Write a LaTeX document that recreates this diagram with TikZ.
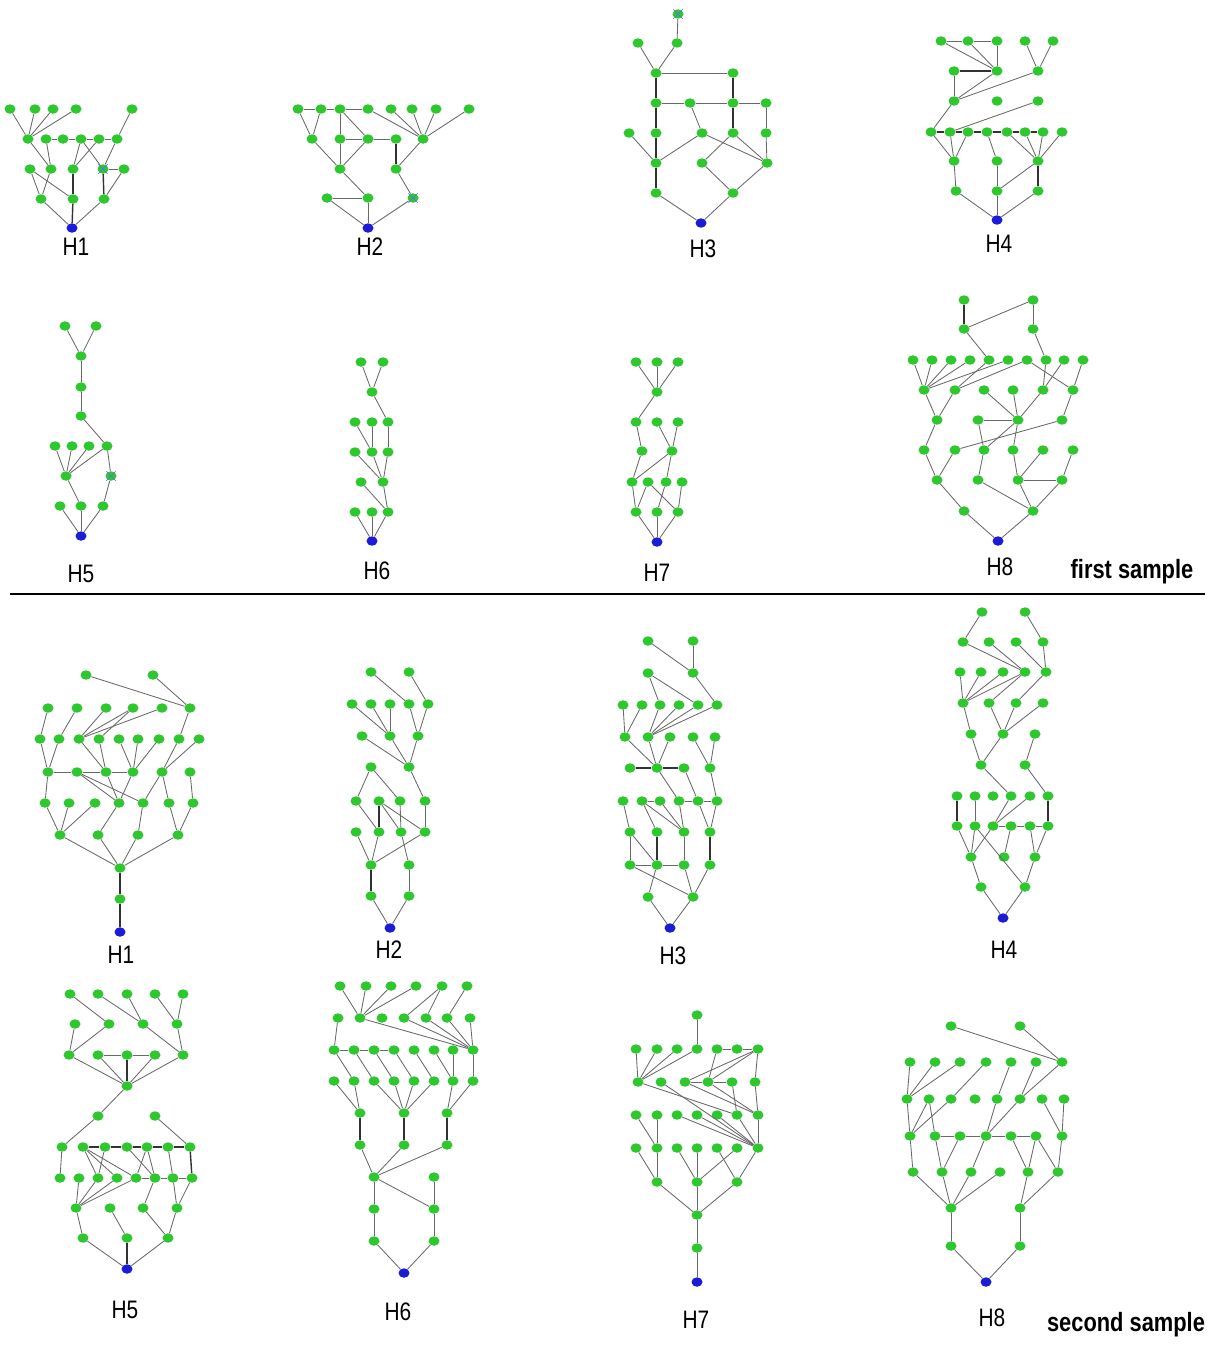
\documentclass[tikz,border=0pt]{standalone}
\usepackage{fontspec}
\setmainfont{Liberation Sans}
\usetikzlibrary{shapes.geometric,shapes.misc}
\definecolor{dotgreen}{RGB}{46,200,46}
\definecolor{dotblue}{RGB}{28,28,215}
\definecolor{edgegray}{RGB}{105,105,105}
\definecolor{edgedark}{RGB}{50,50,50}
\newcommand\mynodes[3]{\foreach \nn/\xx/\yy in {#3}{\node[#2] (#1\nn) at (\xx,\yy) {};}}
\newcommand\myedges[3]{\foreach \ea/\eb in {#3}{\draw[#2] (#1\ea) -- (#1\eb);}}
\newcommand\tallt[1]{\scalebox{0.95}[1.15]{#1}}
\tikzset{
  g/.style={ellipse, fill=dotgreen, draw=none, minimum width=11pt, minimum height=9.5pt, inner sep=0pt},
  rt/.style={ellipse, fill=dotblue, draw=none, minimum width=11pt, minimum height=9.5pt, inner sep=0pt},
  e/.style={draw=edgegray, line width=0.85pt},
  eb/.style={draw=edgedark, line width=1.4pt},
  lab/.style={font=\fontsize{22}{26}\selectfont, inner sep=0pt},
  smp/.style={font=\fontsize{23}{26}\selectfont\bfseries, inner sep=0pt},
  xm/.style={cross out, draw=blue!60, line width=0.5pt, minimum size=9pt, inner sep=0pt},
}
\begin{document}
\begin{tikzpicture}[x=1pt,y=-1pt]
\useasboundingbox[fill=white] (0,0) rectangle (1216,1346);

% ================= FIRST SAMPLE =================
% ---- H1
\mynodes{f1}{g}{a1/10/109,a2/35/109,a3/53/109,a4/76/109,a5/132/109,
 b1/28/139,b2/46/139,b3/63/139,b4/81/139,b5/99/139,b6/117/139,
 c1/30/169,c2/51/169,c3/73/169,c4/103/169,c5/124/169,
 d1/41/199,d2/73/199,d3/104/199}
\mynodes{f1}{rt}{r/72/228}
\myedges{f1}{e}{a1/b1,a2/b1,a3/b1,a4/b1,a5/b6,b2/b3,b3/b4,b4/b5,b5/b6,b1/c2,b2/c2,b4/c3,b5/c3,b4/c4,b6/c4,c4/c5,c1/d1,c1/d2,c2/d1,c5/d3,d1/r,d3/r}
\myedges{f1}{eb}{c3/d2,d2/r,c4/d3}
\node[xm] (f1xm) at (f1c4) {};
\node[lab] (f1lab) at (76,247) {\tallt{H1}};

% ---- H2
\mynodes{f2}{g}{a1/298/109,a2/321/109,a3/340/109,a4/368/109,a5/391/109,a6/412/109,a7/436/109,a8/469/109,
 b1/312/139,b2/340/139,b3/368/139,b4/396/139,b5/423/139,
 c1/340/169,c2/396/169,
 d1/327/198,d2/368/198,d3/413/198}
\mynodes{f2}{rt}{r/368/228}
\myedges{f2}{e}{a1/a2,a2/a3,a3/a4,a1/b1,a2/b1,a3/b2,b2/c1,a3/b3,b2/b3,b3/b4,b3/c1,b1/c1,a4/b5,a5/b5,a6/b5,a7/b5,a8/b5,b5/c2,c1/d2,c2/d3,d1/d2,d1/r,d2/r,d3/r}
\myedges{f2}{eb}{b4/c2}
\node[xm] (f2xm) at (f2d3) {};
\node[lab] (f2lab) at (370,247) {\tallt{H2}};

% ---- H3
\mynodes{f3}{g}{x/678/14,a1/638/43,a2/677/43,b1/656/73,b2/733/73,
 c1/656/103,c2/690/103,c3/733/103,c4/766/103,
 d1/629/133,d2/656/133,d3/702/133,d4/733/133,d5/766/133,
 e1/656/163,e2/702/163,e3/767/163,f1/656/193,f2/733/193}
\mynodes{f3}{rt}{r/701/223}
\myedges{f3}{e}{x/a2,a1/b1,a2/b1,b1/b2,c1/c2,c2/c3,c3/c4,c4/d5,d5/e3,c2/d3,d1/e1,d3/e1,d3/e3,d4/e2,d4/e3,e2/f2,e3/f2,f1/r,f2/r}
\myedges{f3}{eb}{b1/c1,c1/d2,d2/e1,e1/f1,b2/c3,c3/d4}
\node[xm] (f3xm) at (f3x) {};
\node[lab] (f3lab) at (703,249) {\tallt{H3}};

% ---- H4
\mynodes{f4}{g}{a1/941/41,a2/968/41,a3/997/41,a4/1025/41,a5/1053/41,
 b1/954/71,b2/997/71,b3/1038/71,
 c1/954/101,c2/997/101,c3/1038/101,
 d1/931/132,d2/950/132,d3/968/132,d4/987/132,d5/1007/132,d6/1025/132,d7/1043/132,d8/1062/132,
 e1/954/161,e2/997/161,e3/1038/161,
 f1/956/191,f2/997/191,f3/1038/191}
\mynodes{f4}{rt}{r/997/220}
\myedges{f4}{e}{a1/a2,a2/a3,a1/b2,a2/b2,a3/b2,a4/b3,a5/b3,b1/c1,b2/c1,b3/c1,c1/d1,c3/d2,d1/e1,d2/e1,d3/e1,d4/e2,d5/e3,d6/e3,d7/e3,d8/e3,e1/f1,e2/f2,e3/f2,f1/r,f2/r,f3/r}
\myedges{f4}{eb}{b1/b2,d1/d2,d2/d3,d3/d4,d4/d5,d5/d6,d6/d7,e3/f3}
\node[lab] (f4lab) at (999,244) {\tallt{H4}};

% ---- H5
\mynodes{f5}{g}{a1/65/326,a2/96/326,b/81/356,c/81/387,d/81/416,
 e1/55/446,e2/72/446,e3/89/446,e4/107/446,f1/66/476,f2/111/476,
 g1/60/506,g2/81/506,g3/103/506}
\mynodes{f5}{rt}{r/81/536}
\myedges{f5}{e}{a1/b,a2/b,b/c,c/d,d/e4,e1/f1,e2/f1,e3/f1,e4/f1,e4/f2,f1/g2,f2/g3,g1/r,g2/r,g3/r}
\node[xm] (f5xm) at (f5f2) {};
\node[lab] (f5lab) at (81,574) {\tallt{H5}};

% ---- H6
\mynodes{f6}{g}{a1/361/362,a2/383/362,b/372/392,c1/355/422,c2/372/422,c3/388/422,
 d1/355/452,d2/372/452,d3/388/452,e1/361/482,e2/383/482,g1/355/512,g2/372/512,g3/388/512}
\mynodes{f6}{rt}{r/372/541}
\myedges{f6}{e}{a1/b,a2/b,b/c3,c1/d2,c2/d2,c3/d3,d1/e2,d2/e2,d3/e2,e1/g3,e2/g3,g1/r,g2/r,g3/r}
\node[lab] (f6lab) at (377,571) {\tallt{H6}};

% ---- H7
\mynodes{f7}{g}{a1/636/362,a2/657/362,a3/678/362,b/657/392,c1/636/422,c2/657/422,c3/678/422,
 d1/642/451,d2/672/451,e1/632/482,e2/648/482,e3/666/482,e4/682/482,g1/636/512,g2/657/512,g3/678/512}
\mynodes{f7}{rt}{r/657/542}
\myedges{f7}{e}{a1/b,a2/b,a3/b,b/c1,c1/d1,c2/d2,c3/d2,d1/e1,d2/e1,d2/e3,e1/g1,e2/g1,e2/g3,e3/g2,e4/g3,g1/r,g2/r,g3/r}
\node[lab] (f7lab) at (657,573) {\tallt{H7}};

% ---- H8
\mynodes{f8}{g}{a1/964/300,a2/1033/300,b1/964/329,b2/1033/329,
 c1/913/360,c2/932/360,c3/951/360,c4/970/360,c5/989/360,c6/1008/360,c7/1027/360,c8/1046/360,c9/1064/360,c10/1083/360,
 d1/924/390,d2/955/390,d3/984/390,d4/1013/390,d5/1043/390,d6/1073/390,
 e1/937/420,e2/978/420,e3/1018/420,e4/1062/420,
 f1/924/450,f2/955/450,f3/984/450,f4/1013/450,f5/1043/450,f6/1073/450,
 g1/937/480,g2/978/480,g3/1018/480,g4/1062/480,
 h1/964/511,h2/1033/511}
\mynodes{f8}{rt}{r/998/541}
\myedges{f8}{e}{a2/b1,a2/b2,b1/c5,b2/c8,c1/d1,c2/d1,c3/d1,c4/d1,c6/d1,c5/d2,c7/d2,c7/d6,c8/d5,c9/d5,c10/d6,d1/e1,d2/e1,d3/e3,d4/e3,d5/e3,e2/e3,d6/e4,e1/f1,e2/f3,e3/f3,e4/f2,e3/f4,f4/g3,f1/g1,f2/g1,f3/g2,f5/g3,f6/g4,g3/g4,g1/h1,g2/h2,g3/h2,g4/h2,h1/r,h2/r}
\myedges{f8}{eb}{a1/b1}
\node[lab] (f8lab) at (1000,567) {\tallt{H8}};
\node[smp] (firstsmp) at (1132,572) {\tallt{first sample}};

% separator
\coordinate (sepL) at (10,594);
\coordinate (sepR) at (1205,594);
\draw[line width=1.3pt] (sepL) -- (sepR);

% ================= SECOND SAMPLE =================
% ---- H1
\mynodes{s1}{g}{a1/86/675,a2/153/675,
 b1/48/708,b2/77/708,b3/106/708,b4/133/708,b5/162/708,b6/190/708,
 c1/40/739,c2/59/739,c3/79/739,c4/99/739,c5/119/739,c6/138/739,c7/159/739,c8/179/739,c9/199/739,
 d1/48/772,d2/77/772,d3/106/772,d4/133/772,d5/162/772,d6/190/772,
 e1/45/803,e2/69/803,e3/95/803,e4/119/803,e5/143/803,e6/169/803,e7/193/803,
 f1/60/835,f2/98/835,f3/138/835,f4/178/835,g/120/868,h/120/899}
\mynodes{s1}{rt}{r/120/932}
\myedges{s1}{e}{a1/b6,a2/b6,b1/c1,b2/c2,b3/c3,b4/c3,b4/c4,b5/c3,b6/c8,c1/d1,c2/d1,c3/d3,c4/d3,c5/d4,c6/d4,c7/d4,c8/d5,c9/d5,d1/d2,d2/d3,d3/d4,d2/e4,d2/e5,d3/e4,d4/e4,d5/e5,d5/e6,d6/e7,d1/e1,e1/f1,e2/f1,e3/f1,e4/f2,e5/f3,e6/f4,e7/f4,f1/g,f2/g,f3/g,f4/g}
\myedges{s1}{eb}{g/h,h/r}
\node[lab] (s1lab) at (121,955) {\tallt{H1}};

% ---- H2
\mynodes{s2}{g}{a1/371/672,a2/409/672,
 b1/352/704,b2/371/704,b3/390/704,b4/409/704,b5/428/704,
 c1/362/736,c2/390/736,c3/418/736,d1/371/767,d2/409/767,
 e1/356/801,e2/379/801,e3/400/801,e4/425/801,
 f1/356/832,f2/379/832,f3/401/832,f4/425/832,
 g1/371/865,g2/409/865,h1/371/896,h2/409/896}
\mynodes{s2}{rt}{r/390/928}
\myedges{s2}{e}{a1/b4,a2/b5,b1/c2,b2/c2,b3/c2,b4/c3,b5/c3,c1/d2,c2/d2,c3/d2,d1/e1,d1/e3,d2/e4,e1/f2,e2/f3,e2/f4,e3/f3,e4/f4,f1/g1,f2/g1,f4/g1,f3/g2,g2/h2,h1/r,h2/r}
\myedges{s2}{eb}{e2/f2,g1/h1}
\node[lab] (s2lab) at (389,950) {\tallt{H2}};

% ---- H3
\mynodes{s3}{g}{a1/648/641,a2/693/641,b1/648/673,b2/693/673,
 c1/623/705,c2/642/705,c3/660/705,c4/679/705,c5/698/705,c6/717/705,
 d1/625/737,d2/648/737,d3/670/737,d4/693/737,d5/715/737,
 e1/630/768,e2/657/768,e3/684/768,e4/710/768,
 f1/623/801,f2/642/801,f3/660/801,f4/679/801,f5/698/801,f6/717/801,
 g1/630/832,g2/657/832,g3/684/832,g4/710/832,
 h1/630/865,h2/657/865,h3/684/865,h4/710/865,
 i1/648/897,i2/693/897}
\mynodes{s3}{rt}{r/670/928}
\myedges{s3}{e}{a1/b2,a2/b2,b1/c3,b1/c5,b2/c6,c1/d1,c2/d1,c3/d2,c4/d2,c5/d2,c6/d2,d1/e2,d2/e2,d3/e2,d4/e4,d5/e4,e2/f4,e3/f5,e4/f6,f2/f3,f4/f5,f5/f6,f1/g1,f2/g2,f2/g3,f3/g3,f4/g3,f5/g4,f6/g4,g1/h1,g1/h2,g3/h3,h1/h2,h2/h3,h1/i2,h2/i1,h3/i2,h4/i2,i1/r,i2/r}
\myedges{s3}{eb}{e1/e2,e2/e3,g2/h2,g4/h4}
\node[lab] (s3lab) at (673,956) {\tallt{H3}};

% ---- H4
\mynodes{s4}{g}{a1/982/612,a2/1025/612,
 b1/963/642,b2/989/642,b3/1016/642,b4/1043/642,
 c1/960/672,c2/981/672,c3/1003/672,c4/1025/672,c5/1046/672,
 d1/963/703,d2/989/703,d3/1016/703,d4/1043/703,
 e1/971/734,e2/1003/734,e3/1035/734,f1/981/765,f2/1025/765,
 g1/957/796,g2/975/796,g3/993/796,g4/1011/796,g5/1030/796,g6/1048/796,
 h1/957/826,h2/975/826,h3/993/826,h4/1011/826,h5/1030/826,h6/1048/826,
 i1/971/857,i2/1004/857,i3/1035/857,j1/981/887,j2/1025/887}
\mynodes{s4}{rt}{r/1003/918}
\myedges{s4}{e}{a1/b1,a2/b4,b1/c4,b2/c4,b3/c5,b4/c5,c1/d1,c2/d1,c3/d1,c4/d1,c4/d2,c5/d3,d1/e1,d2/e2,d3/e2,d4/e2,e1/f1,e2/f1,e3/f2,f1/g4,f2/g6,g2/h2,g4/h3,g5/h3,h3/h4,h4/h5,h5/h6,h1/i1,h2/i1,h3/i1,h4/i2,h5/i3,h6/i3,h2/j2,i1/j1,i3/j2,j1/r,j2/r}
\myedges{s4}{eb}{g1/h1,g6/h6}
\node[lab] (s4lab) at (1004,950) {\tallt{H4}};

% ---- H5
\mynodes{s5}{g}{a1/70/994,a2/98/994,a3/127/994,a4/155/994,a5/183/994,
 b1/75/1024,b2/109/1024,b3/143/1024,b4/177/1024,
 c1/69/1055,c2/98/1055,c3/127/1055,c4/155/1055,c5/183/1055,
 d/127/1086,e1/98/1116,e2/155/1116,
 f1/62/1147,f2/83/1147,f3/105/1147,f4/127/1147,f5/147/1147,f6/168/1147,f7/190/1147,
 g1/60/1178,g2/79/1178,g3/98/1178,g4/117/1178,g5/136/1178,g6/155/1178,g7/173/1178,g8/192/1178,
 h1/76/1208,h2/110/1208,h3/143/1208,h4/177/1208,
 i1/83/1238,i2/127/1238,i3/168/1238}
\mynodes{s5}{rt}{r/127/1269}
\myedges{s5}{e}{a1/b2,a2/b3,a3/b3,a4/b4,a5/b4,b1/c1,b2/c1,b3/c5,b4/c5,c2/c3,c3/c4,c1/d,c2/d,c4/d,c5/d,d/e1,e1/f1,e2/f7,f1/g1,f2/g3,f2/g4,f2/g5,f3/g3,f5/g5,f5/g6,f6/g7,f4/g6,g5/g6,g6/g7,g7/g8,g2/h1,g3/h1,g4/h1,g5/h1,g6/h3,g7/h4,g8/h4,h1/i1,h2/i2,h3/i3,h4/i3,i1/r,i3/r}
\myedges{s5}{eb}{c3/d,f2/f3,f3/f4,f4/f5,f5/f6,f6/f7,f7/g8,i2/r}
\node[lab] (s5lab) at (125,1310) {\tallt{H5}};

% ---- H6
\mynodes{s6}{g}{a1/340/986,a2/366/986,a3/391/986,a4/416/986,a5/442/986,a6/467/986,
 b1/338/1018,b2/360/1018,b3/382/1018,b4/404/1018,b5/426/1018,b6/447/1018,b7/470/1018,
 c1/334/1050,c2/354/1050,c3/374/1050,c4/394/1050,c5/414/1050,c6/434/1050,c7/453/1050,c8/473/1050,
 d1/334/1081,d2/354/1081,d3/374/1081,d4/394/1081,d5/414/1081,d6/434/1081,d7/453/1081,d8/473/1081,
 e1/360/1113,e2/404/1113,e3/447/1113,f1/360/1145,f2/404/1145,f3/447/1145,
 g1/374/1177,g2/434/1177,h1/374/1209,h2/434/1209,i1/374/1241,i2/434/1241}
\mynodes{s6}{rt}{r/404/1273}
\myedges{s6}{e}{a1/b2,a2/b2,a3/b2,a4/b2,a5/b4,a5/b5,a6/b6,b1/c1,b2/c8,b4/c8,b5/c8,b6/c8,b7/c8,c1/c2,c2/c3,c3/c4,c1/d2,c2/d3,c3/d4,c4/d5,c5/d6,c6/d7,c7/d7,c8/d8,d1/e1,d2/e1,d3/e2,d4/e2,d5/e2,d6/e2,d7/e3,d8/e3,f1/g1,f2/g1,f3/g1,g1/h1,h1/i1,g1/h2,g2/h2,h2/i2,i1/r,i2/r}
\myedges{s6}{eb}{e1/f1,e2/f2,e3/f3}
\node[lab] (s6lab) at (398,1312) {\tallt{H6}};

% ---- H7
\mynodes{s7}{g}{t/697/1015,
 b1/636/1049,b2/657/1049,b3/677/1049,b4/697/1049,b5/717/1049,b6/737/1049,b7/758/1049,
 c1/638/1082,c2/661/1082,c3/685/1082,c4/708/1082,c5/732/1082,c6/755/1082,
 d1/636/1115,d2/657/1115,d3/677/1115,d4/697/1115,d5/717/1115,d6/737/1115,d7/758/1115,
 e1/636/1148,e2/657/1148,e3/677/1148,e4/697/1148,e5/717/1148,e6/737/1148,e7/758/1148,
 f1/657/1182,f2/697/1182,f3/737/1182,g/697/1215,h/697/1248}
\mynodes{s7}{rt}{r/697/1282}
\myedges{s7}{e}{t/b4,b5/b6,b6/b7,b1/c1,b2/c1,b3/c1,b4/c1,b7/c3,b7/c4,b5/c4,b7/c6,c6/d7,c3/c4,c4/c5,c3/d7,c4/d7,c5/d6,c1/d6,c2/e7,d3/e7,d4/e7,d5/e7,d6/e7,d7/e7,d1/e2,d2/e2,e1/f1,e2/f1,e3/f2,e4/f2,e6/f2,e5/f3,e7/f3,f1/g,f2/g,f3/g,g/h,h/r}
\node[lab] (s7lab) at (696,1320) {\tallt{H7}};

% ---- H8
\mynodes{s8}{g}{a1/951/1026,a2/1020/1026,
 b1/910/1062,b2/935/1062,b3/960/1062,b4/986/1062,b5/1011/1062,b6/1036/1062,b7/1062/1062,
 c1/907/1099,c2/929/1099,c3/951/1099,c4/975/1099,c5/997/1099,c6/1020/1099,c7/1042/1099,c8/1064/1099,
 d1/910/1136,d2/935/1136,d3/960/1136,d4/986/1136,d5/1011/1136,d6/1036/1136,d7/1062/1136,
 e1/913/1172,e2/942/1172,e3/971/1172,e4/1000/1172,e5/1028/1172,e6/1058/1172,
 f1/951/1208,f2/1020/1208,g1/951/1246,g2/1020/1246}
\mynodes{s8}{rt}{r/986/1282}
\myedges{s8}{e}{a1/b7,a2/b7,b1/c1,b2/c1,b3/c1,b4/c3,b5/c5,b6/c6,b7/c6,c1/d1,c2/d1,c3/d1,c2/d2,c5/d4,c6/d4,c7/d7,c8/d7,d2/d3,d3/d4,d4/d5,d5/d6,d1/e1,d2/e2,d3/e2,d4/e3,d5/e5,d6/e5,d6/e6,d7/e6,e1/f1,e2/f1,e3/f1,e4/f1,e5/f2,e6/f2,f1/g1,f2/g2,g1/r,g2/r}
\node[lab] (s8lab) at (992,1318) {\tallt{H8}};
\node[smp] (secondsmp) at (1126,1325) {\tallt{second sample}};

\end{tikzpicture}
\end{document}
